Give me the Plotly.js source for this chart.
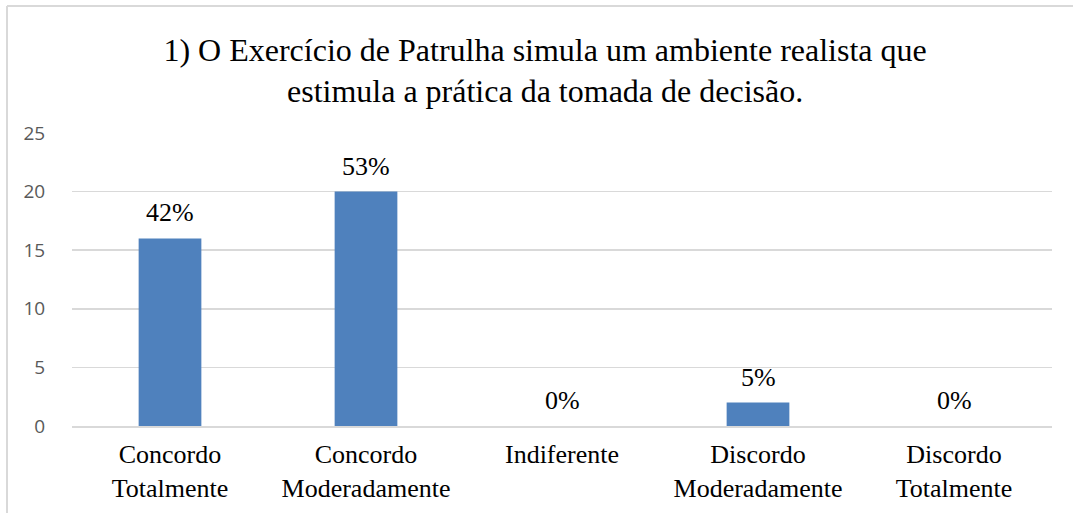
<!DOCTYPE html>
<html>
<head>
<meta charset="utf-8">
<script src="https://cdn.plot.ly/plotly-3.0.1.min.js"></script>
<style>body{margin:0;background:#fff}#myDiv{width:1073px;height:513px}</style>
</head>
<body>
<div id="myDiv"></div>
<script>
var categories = ['Concordo<br>Totalmente', 'Concordo<br>Moderadamente', 'Indiferente', 'Discordo<br>Moderadamente', 'Discordo<br>Totalmente'];
var counts = [16, 20, 0, 2, 0];
var percentLabels = ['42%', '53%', '0%', '5%', '0%'];
var yTicks = [0, 5, 10, 15, 20, 25];

var serif = 'Liberation Serif';

var trace = {
    x: categories,
    y: counts,
    type: 'bar',
    marker: { color: '#4f81bd' },
    hoverinfo: 'none'
};

var annotations = categories.map(function (c, i) {
    return {
        x: c, y: counts[i], xref: 'x', yref: 'y',
        text: percentLabels[i], showarrow: false,
        yanchor: 'bottom', yshift: 9,
        font: { family: serif, size: 26, color: '#000' }
    };
});

// chart frame (top and left edges)
var L = 72, W = 980, B = 426, H = 293;
function px(x) { return (x - L) / W; }
function py(y) { return (B - y) / H; }
var shapes = [
    { type: 'line', xref: 'paper', yref: 'paper', x0: px(7), x1: px(1073), y0: py(6), y1: py(6),
      line: { color: '#d9d9d9', width: 2 } },
    { type: 'line', xref: 'paper', yref: 'paper', x0: px(7), x1: px(7), y0: py(6), y1: py(513),
      line: { color: '#d9d9d9', width: 2 } }
];

var layout = {
    width: 1073,
    height: 513,
    margin: { l: 72, r: 21, t: 133, b: 87, pad: 0 },
    paper_bgcolor: '#fff',
    plot_bgcolor: '#fff',
    showlegend: false,
    bargap: 0.68,
    title: {
        text: '1) O Exercício de Patrulha simula um ambiente realista que<br>estimula a prática da tomada de decisão.',
        font: { family: serif, size: 32, color: '#000' },
        x: 0.508, xanchor: 'center',
        y: 0.882, yanchor: 'middle'
    },
    xaxis: {
        tickfont: { family: serif, size: 26, color: '#000' },
        showgrid: false,
        showline: true,
        linecolor: '#d9d9d9',
        linewidth: 1.5,
        ticks: '',
        ticklabelstandoff: 4,
        fixedrange: true
    },
    yaxis: {
        range: [0, 25],
        tickvals: yTicks,
        tickfont: { family: 'Open Sans', size: 19, color: '#595959' },
        gridcolor: '#d9d9d9',
        gridwidth: 1.5,
        zeroline: false,
        showline: false,
        ticks: 'outside',
        ticklen: 22,
        tickcolor: 'rgba(0,0,0,0)',
        fixedrange: true
    },
    annotations: annotations,
    shapes: shapes
};

Plotly.newPlot('myDiv', [trace], layout, { displayModeBar: false, staticPlot: true });
</script>
</body>
</html>
